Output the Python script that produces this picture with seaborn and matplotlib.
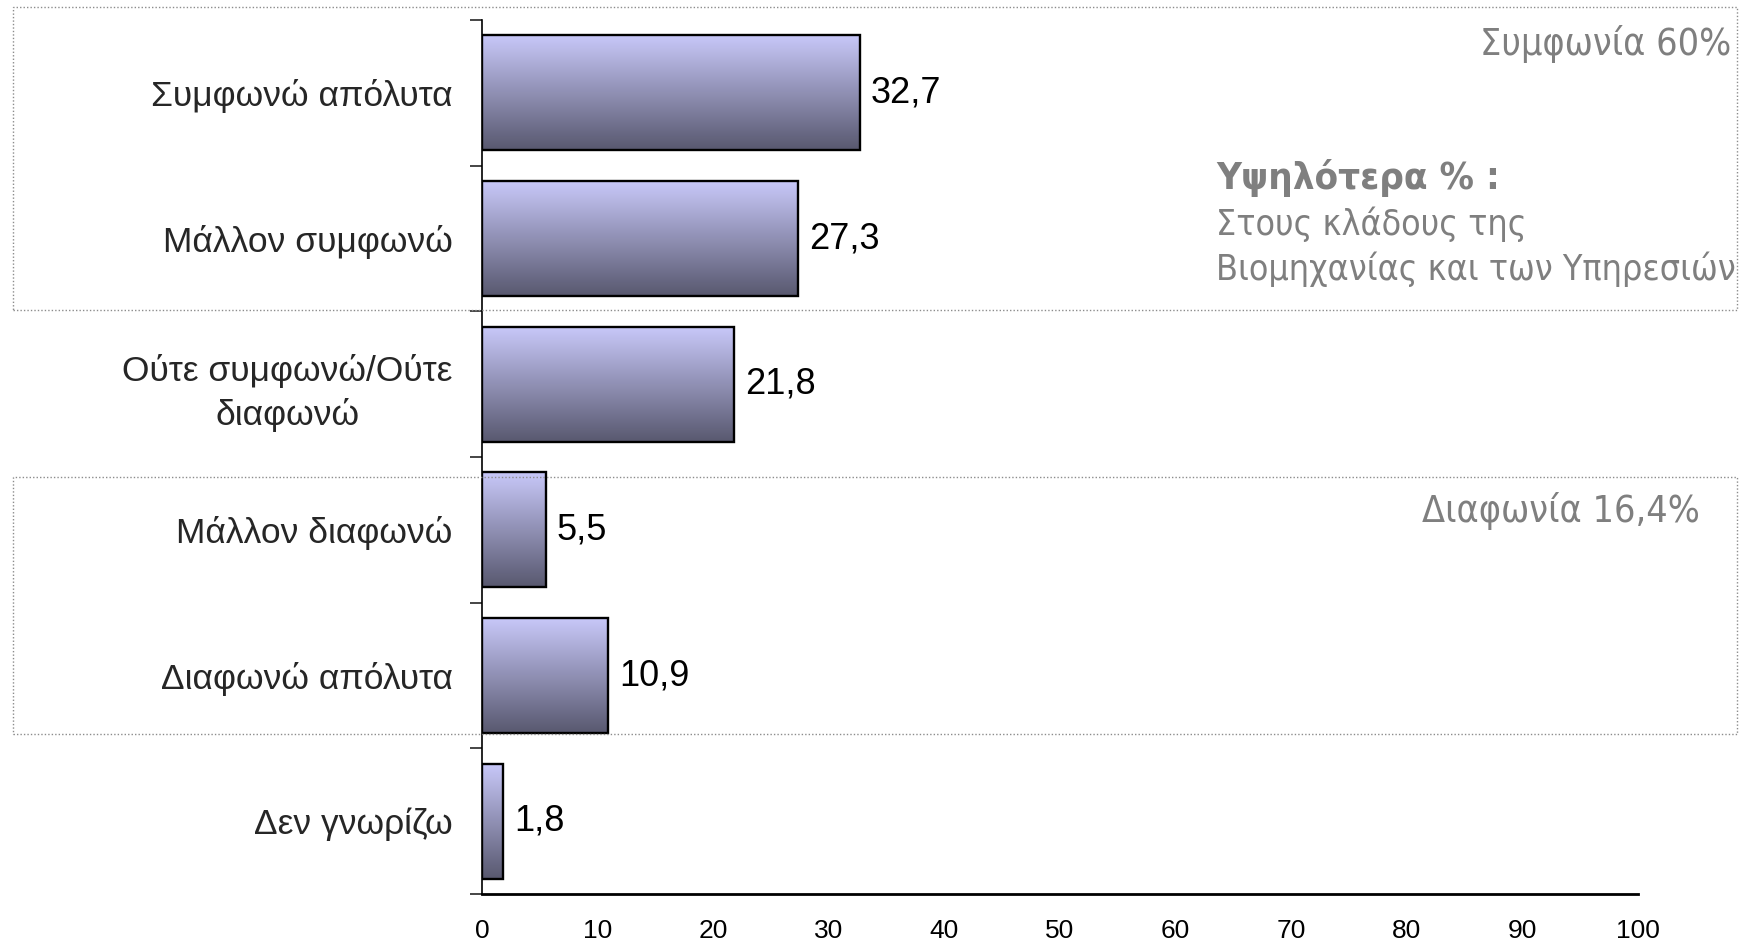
import numpy as np
import pandas as pd
import matplotlib
matplotlib.use("Agg")
import matplotlib.pyplot as plt
import seaborn as sns
from matplotlib import font_manager as fm
from matplotlib.patches import Rectangle
from matplotlib.colors import to_rgb

# ---- data ----
categories = ["Συμφωνώ απόλυτα", "Μάλλον συμφωνώ", "Ούτε συμφωνώ/Ούτε\nδιαφωνώ",
              "Μάλλον διαφωνώ", "Διαφωνώ απόλυτα", "Δεν γνωρίζω"]
values = [32.7, 27.3, 21.8, 5.5, 10.9, 1.8]
x_ticks = [0, 10, 20, 30, 40, 50, 60, 70, 80, 90, 100]
agree_label = "Συμφωνία 60%"
disagree_label = "Διαφωνία 16,4%"
note_title = "Υψηλότερα % :"
note_lines = ["Στους κλάδους της", "Βιομηχανίας και των Υπηρεσιών"]

df = pd.DataFrame({"cat": categories, "val": values})

names = {f.name for f in fm.fontManager.ttflist}
narrow = "Liberation Sans Narrow" if "Liberation Sans Narrow" in names else "Liberation Sans"

sns.set_style("white")
plt.rcParams["font.family"] = [narrow, "DejaVu Sans"]

W, H = 1749, 946
fig = plt.figure(figsize=(W / 100, H / 100), dpi=100)
ax = fig.add_axes([482 / W, 1 - 894 / H, (1638 - 482) / W, (894 - 20) / H])

sns.barplot(data=df, x="val", y="cat", orient="h", ax=ax, color="#9a9ac0",
            edgecolor="black", linewidth=1.7, width=0.79)

ax.set_xlim(0, 100)
ax.set_ylim(len(categories) - 0.5, -0.5)

# gradient fill clipped to each bar
top_c = np.array(to_rgb("#c9c9fa"))
bot_c = np.array(to_rgb("#58586f"))
t = np.linspace(0, 1, 256)[:, None]
grad = (top_c[None, :] * (1 - t) + bot_c[None, :] * t)[:, None, :]
for p in ax.patches:
    x0, y0, w, h = p.get_x(), p.get_y(), p.get_width(), p.get_height()
    im = ax.imshow(grad, extent=(x0, x0 + w, y0 + h, y0), origin="upper",
                   aspect="auto", zorder=1.5, interpolation="bilinear")
    im.set_clip_path(p)
    p.set_facecolor("none")
    p.set_zorder(2)
ax.set_xlim(0, 100)
ax.set_ylim(len(categories) - 0.5, -0.5)

# value labels
ax.bar_label(ax.containers[0], labels=[f"{v:.1f}".replace(".", ",") for v in values],
             padding=8, fontsize=26, color="black", family=[narrow, "DejaVu Sans"])

# axes styling
ax.set_xlabel("")
ax.set_ylabel("")
ax.set_xticks(x_ticks)
ax.set_xticklabels([str(v) for v in x_ticks], fontsize=19)
ax.tick_params(axis="x", direction="out", length=7, width=1.2, pad=11, colors="black")
ax.set_yticks(range(len(categories)))
ax.set_yticklabels(categories, fontsize=25.5, multialignment="center", linespacing=1.4)
ax.tick_params(axis="y", which="major", length=0, pad=21)
ax.set_yticks(np.arange(-0.5, len(categories), 1.0), minor=True)
ax.tick_params(axis="y", which="minor", direction="out", length=9, width=1.2, left=True)
for s in ["top", "right"]:
    ax.spines[s].set_visible(False)
ax.spines["left"].set_color("black")
ax.spines["left"].set_linewidth(1.2)
ax.spines["bottom"].set_color("black")
ax.spines["bottom"].set_linewidth(2.0)
ax.grid(False)

# dotted group boxes (figure coords)
for (yt, yb) in [(7, 310), (477, 734)]:
    fig.patches.append(Rectangle((13 / W, 1 - yb / H), (1737 - 13) / W, (yb - yt) / H,
                                 transform=fig.transFigure, fill=False,
                                 edgecolor="#8c8c8c", linewidth=1.0,
                                 linestyle=(0, (1, 1.5)), zorder=0))

gray = "#7f7f7f"
rfam = ["DejaVu Sans"]
fig.text(1731 / W, 1 - 44 / H, agree_label, ha="right", va="center", fontsize=27,
         color=gray, family=rfam, fontstretch="condensed")
fig.text(1700 / W, 1 - 511 / H, disagree_label, ha="right", va="center", fontsize=27,
         color=gray, family=rfam, fontstretch="condensed")
fig.text(1216 / W, 1 - 178 / H, note_title, ha="left", va="center", fontsize=27.5,
         color=gray, family=rfam, fontweight="bold", fontstretch="condensed")
for i, line in enumerate(note_lines):
    fig.text(1216 / W, 1 - (224 + 45 * i) / H, line, ha="left", va="center",
             fontsize=25.7, color=gray, family=rfam, fontstretch="condensed")

fig.savefig("out.png", dpi=100)
